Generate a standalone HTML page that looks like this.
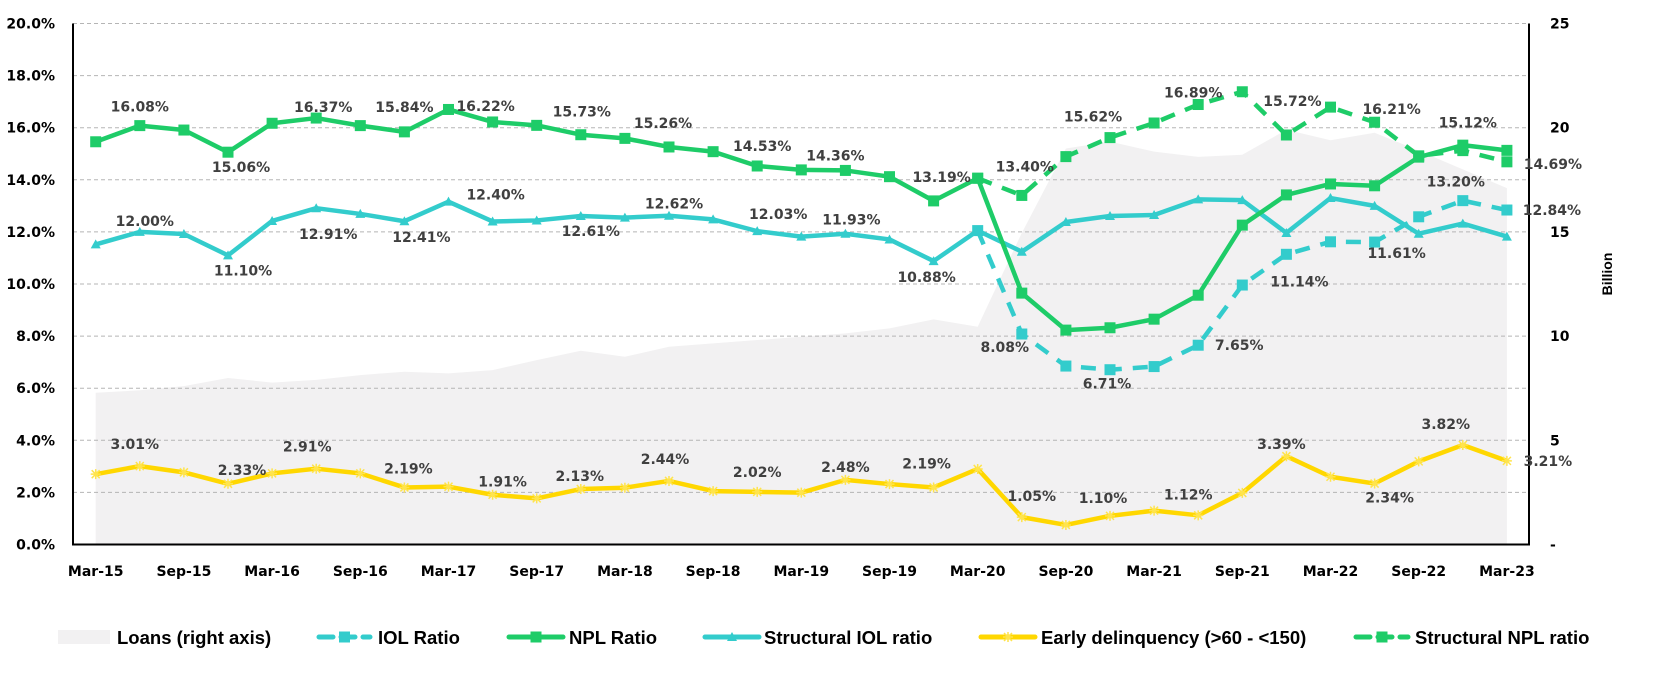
<!DOCTYPE html>
<html><head><meta charset="utf-8">
<style>
html,body{margin:0;padding:0;background:#fff;}
svg{display:block;}
.tick{font-family:"DejaVu Sans",sans-serif;font-weight:bold;font-size:14px;fill:#000;}
.dl{font-family:"DejaVu Sans",sans-serif;font-weight:bold;font-size:14px;fill:#404040;}
.lg{font-family:"Liberation Sans",sans-serif;font-weight:bold;font-size:18.5px;fill:#000;}
</style></head>
<body>
<svg id="chart" width="1656" height="692" viewBox="0 0 1656 692" xmlns="http://www.w3.org/2000/svg">
<g id="area-layer"></g><g id="grid-layer"></g><g id="axis-layer"></g><g id="line-layer"></g><g id="label-layer"></g><g id="legend-layer"></g>
</svg>
<script>
const categories=["Mar-15","Jun-15","Sep-15","Dec-15","Mar-16","Jun-16","Sep-16","Dec-16","Mar-17","Jun-17","Sep-17","Dec-17","Mar-18","Jun-18","Sep-18","Dec-18","Mar-19","Jun-19","Sep-19","Dec-19","Mar-20","Jun-20","Sep-20","Dec-20","Mar-21","Jun-21","Sep-21","Dec-21","Mar-22","Jun-22","Sep-22","Dec-22","Mar-23"];
const loans=[7.28,7.4,7.6,7.99,7.77,7.9,8.13,8.29,8.21,8.37,8.85,9.3,9.01,9.49,9.65,9.81,9.97,10.13,10.37,10.8,10.45,14.95,19.0,19.33,18.85,18.6,18.7,19.9,19.4,19.76,18.9,18.0,17.1];
const nplRatio=[15.46,16.08,15.91,15.06,16.17,16.37,16.08,15.84,16.7,16.22,16.09,15.73,15.59,15.26,15.08,14.53,14.38,14.36,14.12,13.19,14.06,9.65,8.23,8.32,8.65,9.57,12.26,13.42,13.84,13.77,14.87,15.33,15.13];
const structuralIol=[11.52,12.0,11.92,11.10,12.42,12.91,12.69,12.41,13.16,12.40,12.44,12.61,12.55,12.62,12.48,12.03,11.82,11.93,11.71,10.88,12.05,11.24,12.38,12.61,12.65,13.25,13.22,11.96,13.3,13.0,11.93,12.32,11.82];
const iolRatio=[null,null,null,null,null,null,null,null,null,null,null,null,null,null,null,null,null,null,null,null,12.05,8.08,6.85,6.71,6.83,7.65,9.96,11.14,11.62,11.61,12.58,13.20,12.84];
const structuralNpl=[null,null,null,null,null,null,null,null,null,null,null,null,null,null,null,null,null,null,null,null,14.06,13.40,14.89,15.62,16.18,16.89,17.38,15.72,16.79,16.21,14.92,15.12,14.69];
const earlyDelinquency=[2.7,3.01,2.77,2.33,2.73,2.91,2.73,2.19,2.22,1.91,1.77,2.13,2.18,2.44,2.05,2.02,1.99,2.48,2.32,2.19,2.9,1.05,0.75,1.10,1.3,1.12,1.98,3.39,2.6,2.34,3.19,3.82,3.21];
const leftTicks=[0,2,4,6,8,10,12,14,16,18,20];
const rightTicks=[0,5,10,15,20,25];
const xTickLabels=["Mar-15","Sep-15","Mar-16","Sep-16","Mar-17","Sep-17","Mar-18","Sep-18","Mar-19","Sep-19","Mar-20","Sep-20","Mar-21","Sep-21","Mar-22","Sep-22","Mar-23"];
const nplLabelIdx=[1,3,5,7,9,11,13,15,17,19];
const nplLabelOff=[[0,-19],[13,15],[7,-11],[0,-25],[-7,-16],[1,-23],[-6,-24],[5,-20],[-10,-15],[8,-24]];
const sNplLabelIdx=[21,23,25,27,29,31,32];
const sNplLabelOff=[[3,-29],[-17,-21],[-5,-12],[6,-34],[17,-13],[5,-28],[46,2]];
const sIolLabelIdx=[1,3,5,7,9,11,13,15,17,19];
const sIolLabelOff=[[5,-11],[15,15],[12,26],[17,16],[3,-27],[10,15],[5,-12],[21,-17],[6,-14],[-7,16]];
const iolLabelIdx=[21,23,25,27,29,31,32];
const iolLabelOff=[[-17,13],[-3,14],[41,0],[13,27],[22,11],[-7,-19],[45,0]];
const edLabelIdx=[1,3,5,7,9,11,13,15,17,19,21,23,25,27,29,31,32];
const edLabelOff=[[-5,-22],[14,-14],[-9,-22],[4,-19],[10,-13],[-1,-13],[-4,-22],[0,-20],[0,-13],[-7,-24],[10,-21],[-7,-18],[-10,-21],[-5,-12],[15,14],[-17,-21],[41,0]];

const NS="http://www.w3.org/2000/svg";
const L=73,R=1529,T=23.5,B=544.5;
const xOf=i=>95.7+i*((1506.9-95.7)/(categories.length-1));
const yL=v=>T+(20-v)*(B-T)/20;
const yR=v=>T+(25-v)*(B-T)/25;
function el(tag,attrs,parent){const e=document.createElementNS(NS,tag);for(const k in attrs)e.setAttribute(k,attrs[k]);parent.appendChild(e);return e;}
const areaG=document.getElementById('area-layer'),gridG=document.getElementById('grid-layer'),axisG=document.getElementById('axis-layer'),lineG=document.getElementById('line-layer'),labG=document.getElementById('label-layer'),legG=document.getElementById('legend-layer');

let d='M'+xOf(0)+','+B;
loans.forEach((v,i)=>{d+=' L'+xOf(i)+','+yR(v);});
d+=' L'+xOf(loans.length-1)+','+B+' Z';
const area=el('path',{d:d,fill:'#F2F1F2'},areaG);



leftTicks.forEach(v=>{
  if(v>0){const g=el('line',{x1:L,x2:R,y1:yL(v),y2:yL(v),stroke:'#b5b5b5','stroke-width':1,'stroke-dasharray':'4 3'},gridG);
  }
  const t=el('text',{x:55,y:yL(v)+5,'text-anchor':'end',class:'tick'},axisG);t.textContent=v.toFixed(1)+'%';
  
});
rightTicks.forEach(v=>{
  const t=el('text',{x:1550,y:yR(v)+5,'text-anchor':'start',class:'tick'},axisG);t.textContent=v===0?'-':String(v);
  
});
xTickLabels.forEach(lbl=>{
  const i=categories.indexOf(lbl);
  const t=el('text',{x:xOf(i),y:576,'text-anchor':'middle',class:'tick'},axisG);t.textContent=lbl;
  
});
const ax1=el('line',{x1:L,x2:L,y1:T,y2:B+1,stroke:'#000','stroke-width':2},axisG);

const ax2=el('line',{x1:R,x2:R,y1:T,y2:B+1,stroke:'#000','stroke-width':2},axisG);

const ax3=el('line',{x1:L,x2:R,y1:B,y2:B,stroke:'#000','stroke-width':2},axisG);

const yt=el('text',{x:0,y:0,transform:'translate(1612,274) rotate(-90)','text-anchor':'middle',class:'lg',style:'font-size:14px'},axisG);yt.textContent='Billion';


function marker(kind,x,y,color,parent){
  let m;
  if(kind==='square'){m=el('rect',{x:x-5.5,y:y-5.5,width:11,height:11,fill:color},parent);}
  else if(kind==='tri'){m=el('path',{d:`M${x-5},${y+4} L${x+5},${y+4} L${x},${y-5} Z`,fill:color},parent);}
  else {m=el('path',{d:`M${x-5},${y} L${x+5},${y} M${x},${y-5} L${x},${y+5} M${x-4},${y-4} L${x+4},${y+4} M${x-4},${y+4} L${x+4},${y-4}`,stroke:'#FFE44D','stroke-width':1.5},parent);}
  return m;
}
function series(vals,color,dash,mk,name){
  const g=el('g',{},lineG);
  
  
  let p='';vals.forEach((v,i)=>{if(v===null)return;p+=(p?' L':'M')+xOf(i)+','+yL(v);});
  const a={d:p,fill:'none',stroke:color,'stroke-width':4.5,'stroke-linejoin':'round'};
  if(dash)a['stroke-dasharray']='15 11';
  el('path',a,g);
  vals.forEach((v,i)=>{if(v===null)return;const m=marker(mk,xOf(i),yL(v),color,g);
    
    });
}
series(earlyDelinquency,'#FFD700',false,'star','early-delinquency-line');
series(iolRatio,'#33CCCC',true,'square','iol-ratio-line');
series(structuralIol,'#33CCCC',false,'tri','structural-iol-line');
series(structuralNpl,'#1ECC68',true,'square','structural-npl-line');
series(nplRatio,'#1ECC68',false,'square','npl-ratio-line');

function labels(vals,idx,off,name){
  idx.forEach((i,k)=>{
    const t=el('text',{x:xOf(i)+off[k][0],y:yL(vals[i])+off[k][1]+5,'text-anchor':'middle',class:'dl'},labG);
    t.textContent=vals[i].toFixed(2)+'%';
    
    
  });
}
labels(nplRatio,nplLabelIdx,nplLabelOff,'npl-data-label');
labels(structuralNpl,sNplLabelIdx,sNplLabelOff,'structural-npl-data-label');
labels(structuralIol,sIolLabelIdx,sIolLabelOff,'structural-iol-data-label');
labels(iolRatio,iolLabelIdx,iolLabelOff,'iol-data-label');
labels(earlyDelinquency,edLabelIdx,edLabelOff,'early-delinquency-data-label');

const LY=637;
function legItem(x1,x2,tx,text,color,dash,mk,name){
  const g=el('g',{},legG);
  
  
  if(mk==='area'){el('rect',{x:x1,y:LY-7,width:x2-x1,height:14,fill:'#F2F1F2'},g);}
  else{const a={x1:x1,x2:x2,y1:LY,y2:LY,stroke:color,'stroke-width':5,'stroke-linecap':'round'};
    if(dash)a['stroke-dasharray']='14 8';
    el('line',a,g);marker(mk,(x1+x2)/2,LY,color,g);}
  const t=el('text',{x:tx,y:LY+7,class:'lg'},g);t.textContent=text;
}
legItem(58,110,117,'Loans (right axis)','#F2F1F2',false,'area','legend-loans');
legItem(319,370,378,'IOL Ratio','#33CCCC',true,'square','legend-iol-ratio');
legItem(509,563,569,'NPL Ratio','#1ECC68',false,'square','legend-npl-ratio');
legItem(705,759,764,'Structural IOL ratio','#33CCCC',false,'tri','legend-structural-iol');
legItem(981,1035,1041,'Early delinquency (>60 - <150)','#FFD700',false,'star','legend-early-delinquency');
legItem(1356,1408,1415,'Structural NPL ratio','#1ECC68',true,'square','legend-structural-npl');
</script>
</body></html>
